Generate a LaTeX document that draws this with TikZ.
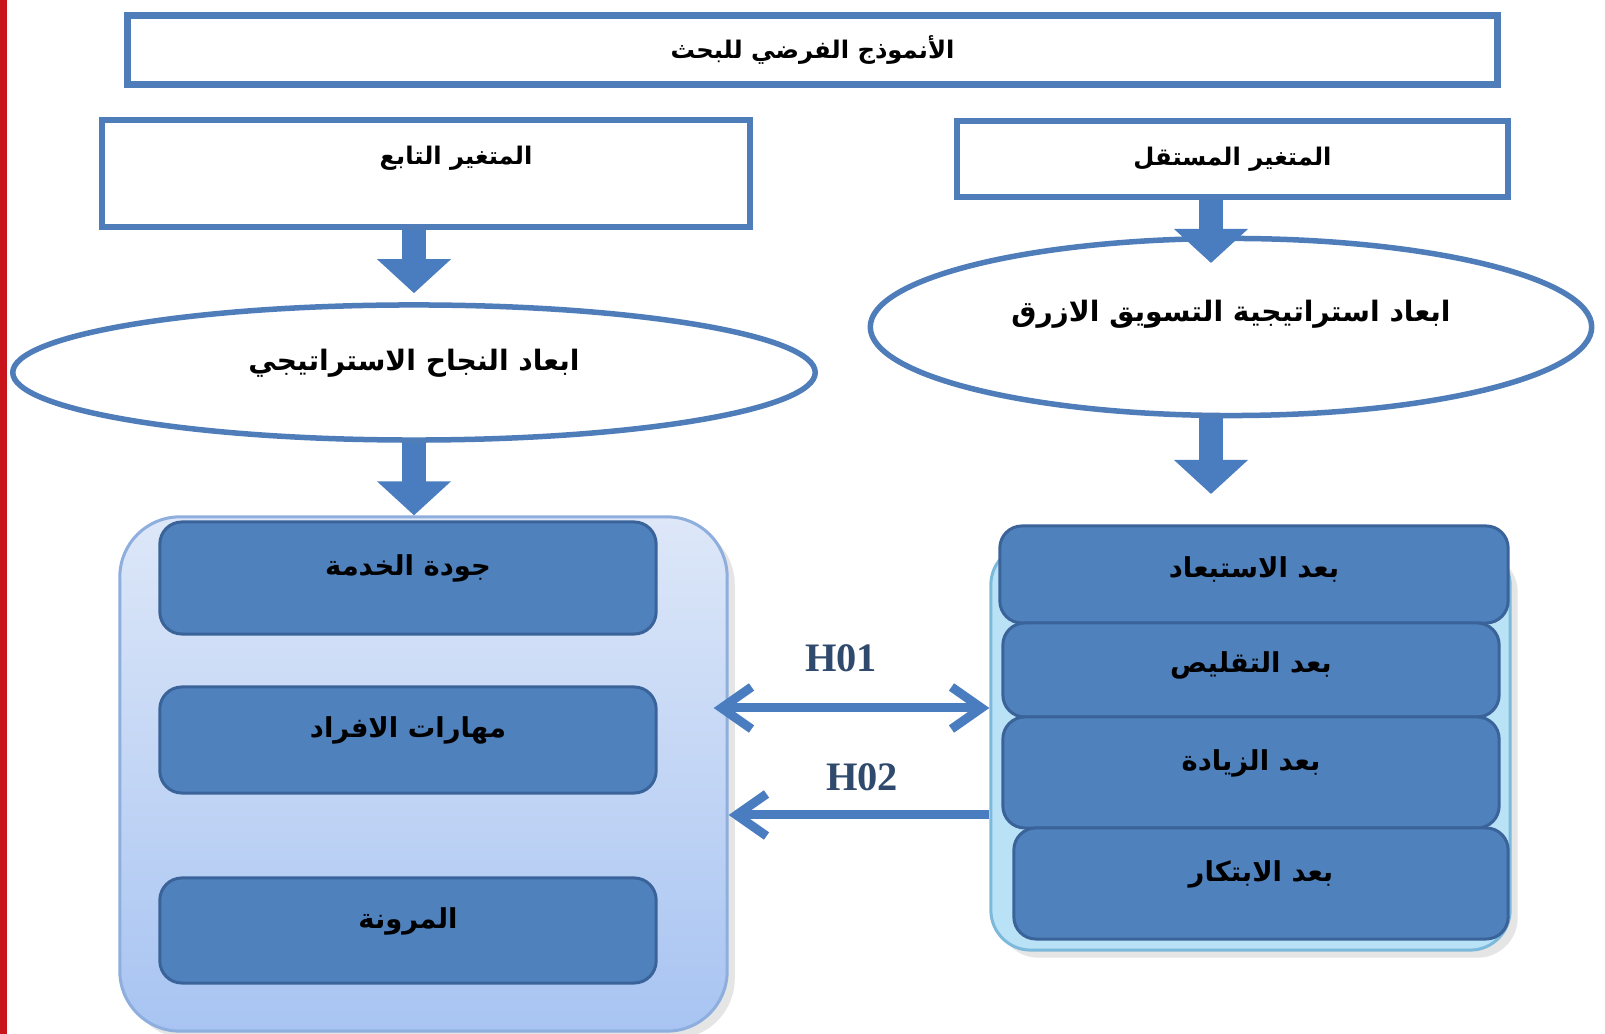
\documentclass[tikz,border=0pt]{standalone}
\usepackage{fontspec}
\newfontfamily\arabicfont[Script=Arabic]{DejaVu Sans}
\newfontfamily\hfont{Liberation Serif}
\TeXXeTstate=1
\usetikzlibrary{arrows.meta,shapes.geometric,shadows}
\definecolor{frameblue}{HTML}{4F7DBA}
\definecolor{arrowblue}{HTML}{4A7DC0}
\definecolor{boxblue}{HTML}{4F81BD}
\definecolor{boxedge}{HTML}{3A6399}
\definecolor{paleblue}{HTML}{DDE7F8}
\definecolor{midblue}{HTML}{A8C4F2}
\definecolor{contedge}{HTML}{8EAEDD}
\definecolor{palecyan}{HTML}{B9E2F6}
\definecolor{cyanedge}{HTML}{7DB9DA}
\definecolor{hblue}{HTML}{2F4A6D}
\definecolor{barred}{HTML}{C8151B}
\newcommand{\artxt}[1]{\arabicfont\bfseries\beginR #1\endR}

\begin{document}
\begin{tikzpicture}[
        x=0.01cm,
        y=-0.01cm,
        frame/.style={draw=frameblue, line width=0.065cm, fill=white, inner sep=0pt, font=\fontsize{6.9pt}{8pt}\selectfont},
        oval/.style={ellipse, draw=frameblue, line width=0.055cm, fill=white, inner sep=0pt, font=\fontsize{8pt}{10pt}\selectfont},
        fatarrow/.style={draw=arrowblue, line width=0.24cm, -{Triangle[width=0.72cm,length=0.34cm]}},
        dimbox/.style={draw=boxedge, line width=0.03cm, fill=boxblue, rounded corners=0.22cm, inner sep=0pt, text height=0.22cm, text depth=0.26cm, font=\fontsize{7.8pt}{9pt}\selectfont},
        lowbox/.style={dimbox, text depth=0.16cm},
        hline/.style={draw=arrowblue, line width=0.09cm},
        hlabel/.style={text=hblue, font=\hfont\bfseries\fontsize{11.5pt}{13pt}\selectfont}
    ]
    \fill[white] (0,0) rectangle (1605,1034);
    \useasboundingbox (0,0) rectangle (1605,1034);
    \fill[barred] (0,0) rectangle (7,1034);

    \node[frame, minimum width=13.69cm, minimum height=0.69cm] (model) at (812.5,50) {\artxt{الأنموذج الفرضي للبحث}};
    \node[frame, minimum width=6.48cm, minimum height=1.07cm, text height=0.25cm, text depth=0.42cm] (dep) at (426,173.5) {\hspace{0.6cm}\artxt{المتغير التابع}};
    \node[frame, minimum width=5.51cm, minimum height=0.76cm] (indep) at (1232.5,159) {\artxt{المتغير المستقل}\hspace{0.94cm}};

    \node[oval, minimum width=8.02cm, minimum height=1.35cm, text height=0.22cm, text depth=0.26cm] (lell) at (414,372.5) {\artxt{ابعاد النجاح الاستراتيجي}};
    \node[oval, minimum width=7.21cm, minimum height=1.77cm, text height=0.22cm, text depth=0.32cm] (rell) at (1231,327) {\artxt{ابعاد استراتيجية التسويق الازرق}};

    \node[draw=contedge, line width=0.03cm, top color=paleblue, bottom color=midblue, rounded corners=0.6cm, minimum width=6.07cm, minimum height=5.14cm, drop shadow={opacity=0.2}] (lcont) at (423.5,774) {};
    \node[draw=cyanedge, line width=0.03cm, fill=palecyan, rounded corners=0.4cm, minimum width=5.19cm, minimum height=4.05cm, drop shadow={opacity=0.2}] (rcont) at (1250.5,747.5) {};

    \node[dimbox, minimum width=4.96cm, minimum height=1.12cm] (serv) at (408,578) {\artxt{جودة الخدمة}};
    \node[dimbox, minimum width=4.96cm, minimum height=1.06cm] (skill) at (408,740) {\artxt{مهارات الافراد}};
    \node[dimbox, minimum width=4.96cm, minimum height=1.05cm] (flex) at (408,930.5) {\artxt{المرونة}};

    \node[lowbox, minimum width=5.08cm, minimum height=0.97cm] (excl) at (1254,574.5) {\artxt{بعد الاستبعاد}};
    \node[lowbox, minimum width=4.96cm, minimum height=0.94cm] (redu) at (1251,670) {\artxt{بعد التقليص}};
    \node[dimbox, minimum width=4.96cm, minimum height=1.11cm] (incr) at (1251,772.5) {\artxt{بعد الزيادة}};
    \node[dimbox, minimum width=4.94cm, minimum height=1.11cm] (inno) at (1261,883.5) {\artxt{بعد الابتكار}};

    \coordinate (a1) at (1211,263);
    \coordinate (a2) at (1211,494);
    \coordinate (h1) at (850,708);
    \coordinate (h2) at (850,815);

    \draw[fatarrow, shorten >=0.09cm] (lell.north |- dep.south) -- (lell.north);
    \draw[fatarrow] (a1 |- indep.south) -- (a1);
    \draw[fatarrow] (lell.south) -- (lell.south |- lcont.north);
    \draw[fatarrow] (a2 |- rell.south) -- (a2);

    \draw[hline, {Straight Barb[length=0.3cm,width=0.42cm]}-{Straight Barb[length=0.3cm,width=0.42cm]}, shorten <=-0.15cm] (lcont.east |- h1) -- (rcont.west |- h1);
    \draw[hline, -{Straight Barb[length=0.3cm,width=0.42cm]}] (rcont.west |- h2) -- (lcont.east |- h2);
    \node[hlabel] (h01) at (841,658) {H01};
    \node[hlabel] (h02) at (862,777) {H02};

\end{tikzpicture}
\end{document}
